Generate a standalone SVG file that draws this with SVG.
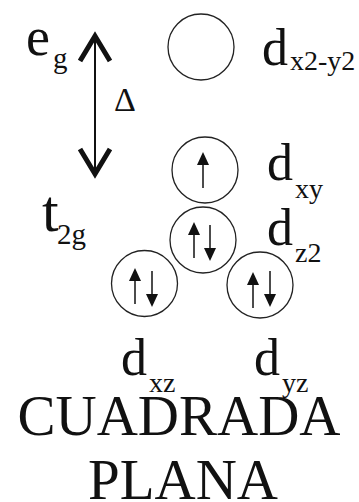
<svg xmlns="http://www.w3.org/2000/svg" width="359" height="502" viewBox="0 0 359 502">
<g id="labels-left" fill="#111">
<text x="26" y="55" font-family="Liberation Serif" font-size="54">e</text>
<text x="53" y="68" font-family="Liberation Serif" font-size="29">g</text>
<text x="114" y="111" font-family="Liberation Serif" font-size="34">&#916;</text>
<text x="42" y="231" font-family="Liberation Serif" font-size="60">t</text>
<text x="57" y="244" font-family="Liberation Serif" font-size="29">2g</text>
</g>
<g id="connectors" fill="none" stroke="#111">
<line x1="95" y1="36" x2="95" y2="174" stroke-width="2"/>
<polyline points="80,61 95,36 110,61" stroke-width="5"/>
<polyline points="80,149 95,174 110,149" stroke-width="5"/>
</g>
<g id="dx2y2" fill="#111">
<circle cx="201" cy="47" r="33" fill="none" stroke="#222" stroke-width="1.3"/>
<text x="262" y="65" font-family="Liberation Serif" font-size="52">d</text>
<text x="290" y="70" font-family="Liberation Serif" font-size="28">x2-y2</text>
</g>
<g id="dxy" fill="#111">
<circle cx="205" cy="170" r="33" fill="none" stroke="#222" stroke-width="1.3"/>
<line x1="203" y1="164" x2="203" y2="188" stroke="#111" stroke-width="1.5"/><path d="M203,152 l6,13 h-12 Z"/>
<text x="267" y="180" font-family="Liberation Serif" font-size="52">d</text>
<text x="295" y="198" font-family="Liberation Serif" font-size="28">xy</text>
</g>
<g id="dz2" fill="#111">
<circle cx="203" cy="240" r="33" fill="none" stroke="#222" stroke-width="1.3"/>
<line x1="194" y1="234" x2="194" y2="258" stroke="#111" stroke-width="1.5"/><path d="M194,222 l6,13 h-12 Z"/>
<line x1="210" y1="225" x2="210" y2="249" stroke="#111" stroke-width="1.5"/><path d="M210,261 l6,-13 h-12 Z"/>
<text x="267" y="245" font-family="Liberation Serif" font-size="52">d</text>
<text x="295" y="262" font-family="Liberation Serif" font-size="28">z2</text>
</g>
<g id="dxz" fill="#111">
<circle cx="144.5" cy="283.5" r="33" fill="none" stroke="#222" stroke-width="1.3"/>
<line x1="135" y1="280" x2="135" y2="304" stroke="#111" stroke-width="1.5"/><path d="M135,268 l6,13 h-12 Z"/>
<line x1="152" y1="271" x2="152" y2="295" stroke="#111" stroke-width="1.5"/><path d="M152,307 l6,-13 h-12 Z"/>
<text x="121" y="375" font-family="Liberation Serif" font-size="52">d</text>
<text x="149" y="392" font-family="Liberation Serif" font-size="28">xz</text>
</g>
<g id="dyz" fill="#111">
<circle cx="260" cy="285" r="33" fill="none" stroke="#222" stroke-width="1.3"/>
<line x1="253" y1="284" x2="253" y2="308" stroke="#111" stroke-width="1.5"/><path d="M253,272 l6,13 h-12 Z"/>
<line x1="270" y1="271" x2="270" y2="295" stroke="#111" stroke-width="1.5"/><path d="M270,307 l6,-13 h-12 Z"/>
<text x="254" y="375" font-family="Liberation Serif" font-size="52">d</text>
<text x="282" y="392" font-family="Liberation Serif" font-size="28">yz</text>
</g>
<g id="title" fill="#111">
<text x="179" y="435" font-family="Liberation Serif" font-size="57" text-anchor="middle">CUADRADA</text>
<text x="183" y="499" font-family="Liberation Serif" font-size="57" text-anchor="middle">PLANA</text>
</g>
</svg>
